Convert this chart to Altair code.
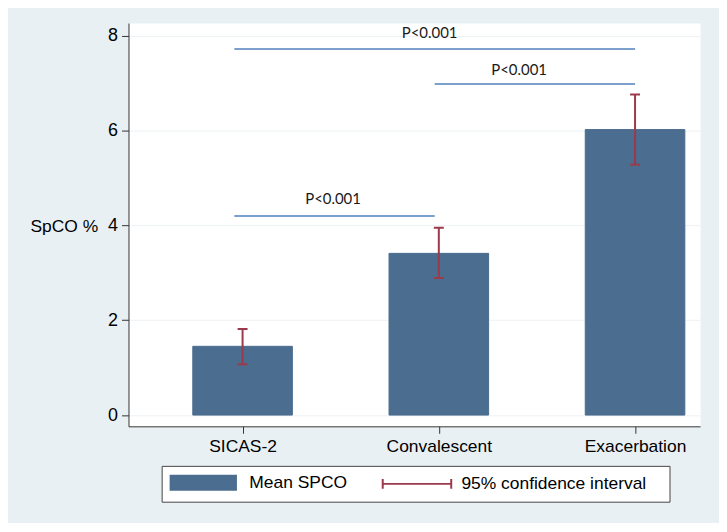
import altair as alt
import pandas as pd

# ---- data ----
groups = ["SICAS-2", "Convalescent", "Exacerbation"]
group_pos = [1, 2, 3]
mean_spco = [1.45, 3.41, 6.02]
ci_low = [1.07, 2.89, 5.28]
ci_high = [1.815, 3.95, 6.76]

sig_x1 = [0.958, 1.979, 0.958]
sig_x2 = [1.979, 3.0, 3.0]
sig_y = [4.20, 6.98, 7.72]
sig_label = ["P<0.001", "P<0.001", "P<0.001"]
sig_label_x = [1.461, 2.409, 1.953]
sig_label_y = [4.565, 7.27, 8.06]

series_names = ["Mean SPCO", "95% confidence interval"]
y_ticks = [0, 2, 4, 6, 8]

BLUE = "#4b6d8f"
RED = "#9b3a4a"
LINEBLUE = "#4f81bd"
BG = "#e9f0f4"
FONT = "Liberation Sans"

bars = pd.DataFrame({"pos": group_pos, "group": groups, "mean": mean_spco,
                     "series": series_names[0]})
ci = pd.DataFrame({"pos": group_pos, "lo": ci_low, "hi": ci_high,
                   "series": series_names[1]})
sig = pd.DataFrame({"x1": sig_x1, "x2": sig_x2, "y": sig_y})
sig_txt = pd.DataFrame({"lx": sig_label_x, "ly": sig_label_y, "label": sig_label})

xs = alt.Scale(domain=[0.444, 3.306], nice=False, zero=False)
ys = alt.Scale(domain=[-0.237, 8.267], nice=False, zero=False)

label_expr = " : ".join(
    [f"datum.value == {p} ? '{g}'" for p, g in zip(group_pos[:-1], groups[:-1])]
    + [f"'{groups[-1]}'"]
)

xaxis = alt.Axis(values=group_pos, labelExpr=label_expr, title=None, grid=False,
                 tickSize=7, tickColor="#333", domainColor="#333",
                 labelFont=FONT, labelFontSize=17.5, labelColor="black",
                 labelPadding=18, labelBaseline="alphabetic")
yaxis = alt.Axis(values=y_ticks, title="SpCO %", titleAngle=0, titleX=-99, titleY=209,
                 titleAlign="left", titleBaseline="alphabetic", titleFont=FONT,
                 titleFontSize=17.5, titleFontWeight="normal", titleColor="black",
                 grid=True, gridColor="#edf2f5", tickSize=7, tickColor="#333",
                 domainColor="#333", labelFont=FONT, labelFontSize=18,
                 labelColor="black", labelPadding=4)

sscale = alt.Scale(domain=series_names, range=[BLUE, RED])
rect_path = "M-1,-0.875H7.2V0.875H-1Z"
bar_path = "M-1,-0.6V0.6M-1,0H7.6M7.6,-0.6V0.6"
pad = "\u00a0" * 3 + "\u200b"
leg = alt.Legend(
    title=None, orient="none", legendX=33.3, legendY=444.7, direction="horizontal",
    symbolSize=256,
    symbolType={"expr": f"datum.value == '{series_names[0]}' ? '{rect_path}' : '{bar_path}'"},
    symbolStrokeWidth=2, labelOffset=62, columnPadding=31, padding=8,
    fillColor="white", strokeColor="#444", labelFont=FONT, labelFontSize=17.5,
    labelColor="black", labelLimit=500,
    labelExpr=f"datum.label == '{series_names[1]}' ? datum.label + '{pad}' : datum.label",
)

bar_layer = alt.Chart(bars).mark_bar(size=100, color=BLUE).encode(
    x=alt.X("pos:Q", scale=xs, axis=xaxis),
    y=alt.Y("mean:Q", scale=ys, axis=yaxis),
    y2=alt.datum(0),
    stroke=alt.Stroke("series:N", scale=sscale, legend=leg),
)

rule_layer = alt.Chart(ci).mark_rule(strokeWidth=2).encode(
    x=alt.X("pos:Q", scale=xs),
    y=alt.Y("lo:Q", scale=ys),
    y2="hi:Q",
    stroke=alt.Stroke("series:N", scale=sscale, legend=leg),
)

cap_layer = alt.Chart(ci).transform_fold(["lo", "hi"], as_=["end", "val"]).mark_tick(
    orient="horizontal", size=10, thickness=2, color=RED, opacity=1
).encode(
    x=alt.X("pos:Q", scale=xs),
    y=alt.Y("val:Q", scale=ys),
)

sig_layer = alt.Chart(sig).mark_rule(color=LINEBLUE, strokeWidth=1.5).encode(
    x=alt.X("x1:Q", scale=xs), x2="x2:Q", y=alt.Y("y:Q", scale=ys)
)

sig_text = alt.Chart(sig_txt).mark_text(font="Lato", fontSize=15, color="#1a1a1a",
                                         baseline="middle").encode(
    x=alt.X("lx:Q", scale=xs), y=alt.Y("ly:Q", scale=ys), text="label:N"
)

chart = alt.layer(bar_layer, rule_layer, cap_layer, sig_layer, sig_text).properties(
    width=574, height=405,
    background=BG,
    padding={"left": 121, "top": 14, "right": 19, "bottom": 96},
    autosize=alt.AutoSizeParams(type="none"),
).configure_view(fill="white", stroke="transparent")

chart.save("out.html", embed_options={"renderer": "svg", "actions": False})
